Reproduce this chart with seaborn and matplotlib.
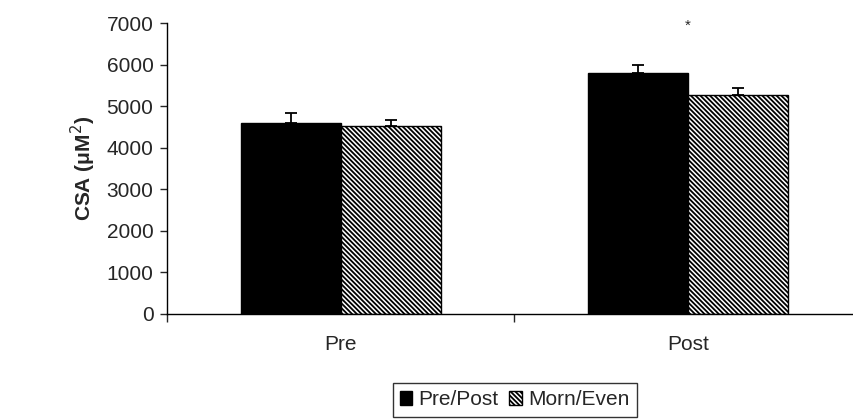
import matplotlib
matplotlib.use("Agg")
import matplotlib.pyplot as plt
import numpy as np
import pandas as pd
import seaborn as sns
from matplotlib.patches import Patch

# Values
phases = ["Pre", "Post"]
groups = ["Pre/Post", "Morn/Even"]
pre_post = [4600, 5790]
morn_even = [4520, 5270]
pre_post_err = [230, 200]
morn_even_err = [150, 160]
y_ticks = [0, 1000, 2000, 3000, 4000, 5000, 6000, 7000]

df = pd.DataFrame({
    "phase": phases * 2,
    "group": [groups[0]] * 2 + [groups[1]] * 2,
    "csa": pre_post + morn_even,
    "err": pre_post_err + morn_even_err,
})

HATCH = "\\" * 7

sns.set_style("white")
plt.rcParams["font.family"] = ["Liberation Sans", "DejaVu Sans"]
plt.rcParams["hatch.linewidth"] = 1.3

fig = plt.figure(figsize=(8.54, 4.19), dpi=100)
ax = fig.add_axes([0.196, 0.2506, 0.8126, 0.6944])

sns.barplot(
    data=df, x="phase", y="csa", hue="group", order=phases, hue_order=groups,
    palette=["black", "white"], width=0.576, gap=0, errorbar=None,
    edgecolor="black", linewidth=1, legend=False, ax=ax,
)

# hatch the second group and add upper-only error bars
bar_groups = list(ax.containers)
for i, bars in enumerate(bar_groups):
    errs = df[df["group"] == groups[i]]["err"].values
    xs, ys = [], []
    for bar in bars:
        if i == 1:
            bar.set_hatch(HATCH)
        xs.append(bar.get_x() + bar.get_width() / 2)
        ys.append(bar.get_height())
    ax.errorbar(xs, ys, yerr=[np.zeros(len(errs)), errs], fmt="none",
                ecolor="black", elinewidth=1.3, capsize=4.5, capthick=1.3)

ax.text(1, 6930, "*", ha="center", va="center", fontsize=11)

ax.set_xlim(-0.5, 1.5)
ax.set_ylim(0, 7000)
ax.set_yticks(y_ticks)
ax.set_yticklabels([str(t) for t in y_ticks], fontsize=15)
ax.set_xticks([0, 1])
ax.set_xticklabels(phases, fontsize=15)
ax.set_xticks([-0.5, 0.5, 1.5], minor=True)
ax.tick_params(axis="x", which="major", length=0, pad=15)
ax.tick_params(axis="x", which="minor", length=6, width=1, direction="out", bottom=True)
ax.tick_params(axis="y", length=5, width=1, direction="out", left=True, pad=5)
ax.set_xlabel("")
ax.set_ylabel("CSA (μM$^{2}$)", fontsize=15, fontweight="bold", labelpad=6)

for s in ["top", "right"]:
    ax.spines[s].set_visible(False)
for s in ["left", "bottom"]:
    ax.spines[s].set_color("black")
    ax.spines[s].set_linewidth(1)

handles = [
    Patch(facecolor="black", edgecolor="black", label=groups[0]),
    Patch(facecolor="white", edgecolor="black", hatch=HATCH, label=groups[1]),
]
leg = fig.legend(
    handles=handles, loc="upper center", bbox_to_anchor=(0.6025, 0.086),
    ncol=2, fontsize=15, frameon=True, fancybox=False, handlelength=0.6,
    handleheight=0.6, handletextpad=0.3, columnspacing=0.5, borderpad=0.35,
    borderaxespad=0,
)
leg.get_frame().set_edgecolor("black")
leg.get_frame().set_linewidth(1)

fig.savefig("out.png", dpi=100)
